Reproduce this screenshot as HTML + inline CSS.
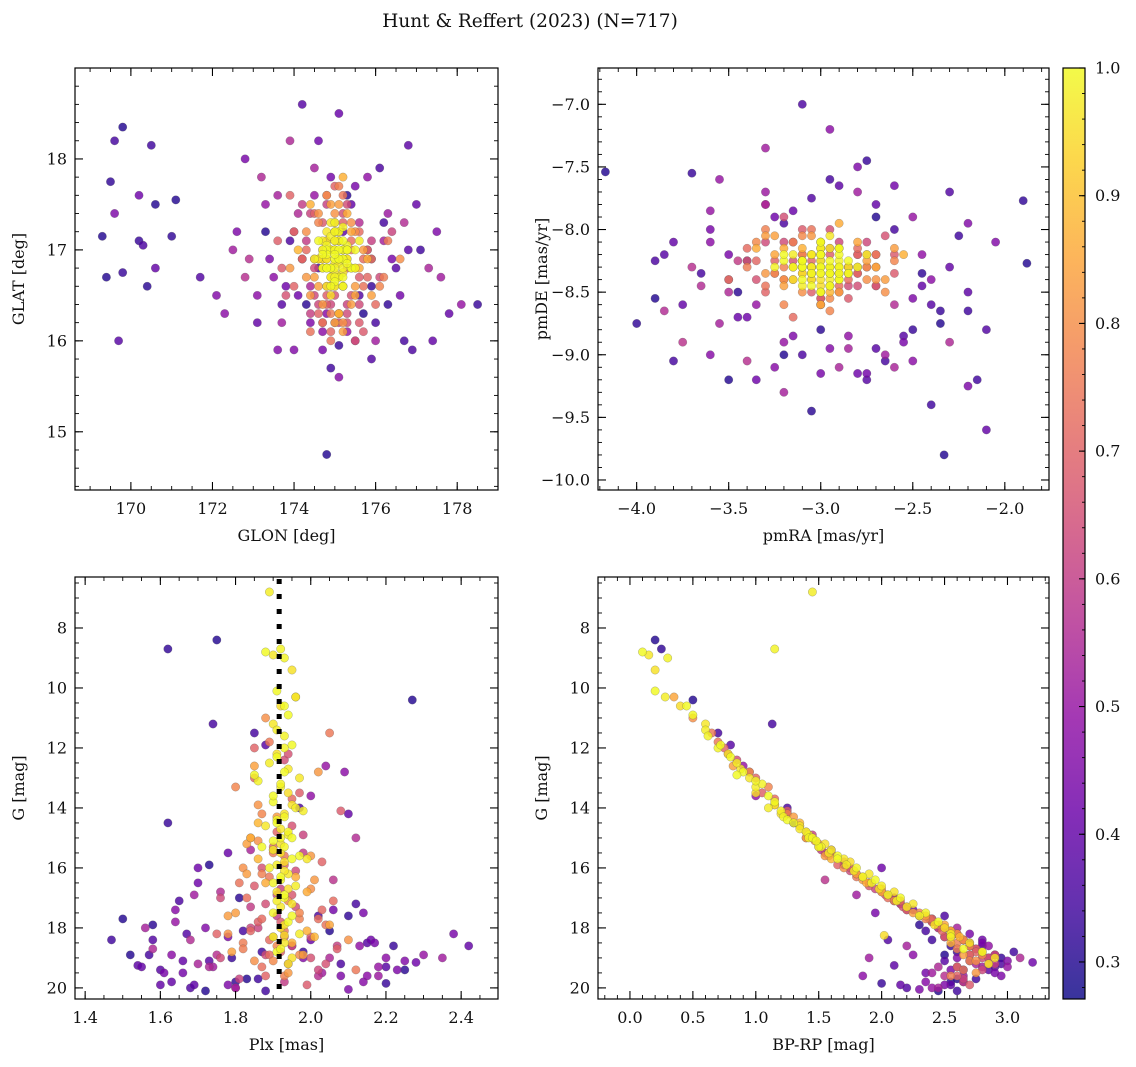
<!DOCTYPE html>
<html><head><meta charset="utf-8">
<style>
html,body{margin:0;padding:0;background:#fff;}
svg{display:block;font-family:"DejaVu Serif","Liberation Serif",serif;}
</style></head>
<body>
<svg id="fig" width="1136" height="1067" viewBox="0 0 1136 1067" xmlns="http://www.w3.org/2000/svg">
<text x="530" y="27" text-anchor="middle" font-size="18.5" fill="#111">Hunt &amp; Reffert (2023) (N=717)</text>
</svg>
<script>
// ---- data (one entry per star) ----
const glon = [169.3,169.5,169.6,169.8,169.7,169.8,169.4,170.2,170.3,170.4,170.5,170.6,170.6,171.0,171.1,171.7,169.6,170.2,
172.3,172.5,172.8,173.1,173.3,173.6,173.9,174.1,174.2,174.5,174.8,175.1,175.1,175.5,175.8,176.0,176.3,176.6,176.8,176.9,177.3,177.5,177.8,178.1,178.5,172.9,173.5,176.4,177.6,174.0,175.9,172.1,174.6,176.7,173.2,177.0,175.3,174.4,176.2,173.7,175.6,174.9,
175.5,174.3,175.9,174.6,175.2,173.9,176.1,174.8,175.6,174.1,175.3,174.5,176.3,175.0,173.8,175.8,174.4,175.4,174.9,176.0,174.2,175.1,175.7,173.7,174.7,176.4,175.2,174.0,175.5,174.6,176.2,174.9,173.6,175.9,174.3,175.3,176.6,174.8,175.1,173.9,175.6,174.4,175.0,176.1,174.2,175.7,174.7,175.4,174.0,175.2,
175.0,174.8,175.2,174.9,175.3,175.1,174.7,175.4,174.9,175.0,175.2,174.6,175.1,174.8,175.3,175.0,174.9,175.5,174.7,175.1,175.2,174.8,175.0,175.4,174.9,175.1,174.6,175.3,175.0,174.8,175.2,174.9,175.1,175.5,174.7,175.0,175.3,174.8,175.1,174.9,175.2,175.0,174.5,175.6,174.8,175.2,174.9,175.1,175.0,174.7,
174.6,175.4,174.9,175.7,174.3,175.1,174.8,175.5,174.5,175.2,174.7,175.6,174.4,175.0,175.8,174.6,175.3,174.9,175.5,174.2,175.1,174.8,175.4,174.5,175.7,175.0,174.7,175.3,174.4,175.9,174.9,175.2,174.6,175.6,174.8,175.0,175.4,174.3,175.1,174.7,175.5,174.9,175.3,174.5,175.8,175.0,174.6,175.2,174.8,175.4,174.4,175.1,174.9,175.6,174.7,175.3,175.0,174.5,175.2,174.8,
175.0,174.9,175.1,175.2,174.8,175.0,175.3,174.7,175.1,174.9,175.0,175.2,174.8,175.1,174.9,175.0,175.3,174.8,175.2,175.0,174.9,175.1,174.7,175.0,175.2,174.9,175.1,175.0,174.8,175.2,
173.8,176.2,174.5,175.7,173.4,176.5,174.1,175.9,174.7,175.4,173.9,176.0,174.3,175.5,172.8,177.1,174.8,175.2,173.6,176.3,174.0,175.8,174.6,175.0,173.3,176.7,174.9,175.6,174.2,175.1,172.6,177.4,174.4,176.1,173.1,175.3,174.7,176.8,173.7,175.9];
const glat = [17.15,17.75,18.2,18.35,16.0,16.75,16.7,17.6,17.05,16.6,18.15,17.5,16.8,17.15,17.55,16.7,17.4,17.1,
16.3,17.0,18.0,16.2,17.5,15.9,18.2,16.5,18.6,17.9,14.75,15.6,18.5,16.0,17.8,16.2,17.4,16.5,18.15,15.9,16.8,17.2,16.3,16.4,16.4,16.9,16.7,16.9,16.7,17.2,15.8,16.5,18.2,16.0,17.8,17.5,16.1,16.2,17.1,16.4,17.3,15.7,
16.5,17.2,16.9,16.3,17.4,16.8,16.6,17.6,16.2,17.0,16.4,16.7,17.1,17.7,16.5,16.9,16.1,17.3,16.6,16.4,17.5,16.3,17.0,16.8,16.2,17.2,17.8,16.6,16.0,17.4,16.7,16.4,17.1,16.5,17.0,16.2,16.9,17.5,16.3,17.6,16.8,16.5,17.3,16.7,16.9,16.1,17.0,16.4,17.2,16.6,
16.9,17.1,16.8,16.7,17.0,17.2,16.9,16.8,17.3,16.6,17.1,16.9,16.7,17.0,16.9,17.2,16.5,17.0,16.8,17.1,16.9,16.6,17.3,16.8,17.0,16.7,17.1,16.9,16.8,17.2,16.6,17.0,16.9,16.8,17.1,16.7,17.0,16.9,17.2,16.8,16.7,17.0,16.9,17.1,16.8,16.6,17.0,16.9,17.1,16.8,
17.3,16.5,17.5,16.9,17.1,16.3,16.6,17.2,16.8,17.6,16.4,16.7,17.4,16.2,17.0,16.9,17.5,16.1,16.6,16.9,17.7,16.4,17.2,16.5,16.6,17.4,16.2,16.8,17.5,17.1,16.3,17.3,16.6,16.4,17.6,16.5,17.1,16.7,16.2,17.3,16.8,16.0,17.4,16.9,16.7,17.2,16.4,16.1,16.5,17.0,16.3,17.5,16.6,17.2,16.9,16.3,16.6,17.4,16.2,17.1,
17.0,16.8,17.1,16.9,16.95,16.75,17.05,17.0,16.85,17.15,16.65,17.25,16.9,17.0,16.8,17.2,16.85,17.05,16.75,16.95,16.7,17.1,16.95,16.85,17.0,16.6,16.9,17.1,16.8,17.0,
16.6,17.3,17.6,16.3,16.9,16.8,17.4,16.6,16.1,17.5,17.1,16.0,16.4,17.7,16.7,17.0,16.3,17.2,17.6,16.4,15.9,17.0,16.8,16.2,17.2,17.3,17.8,16.5,16.9,15.95,17.2,16.0,16.6,17.9,16.5,17.6,15.9,17.0,16.2,16.9];
const pmra = [-4.17,-4.0,-3.8,-3.9,-3.85,-3.7,-3.5,-3.35,-3.1,-3.05,-2.4,-2.33,-2.1,-1.9,-1.88,-2.1,-2.2,-2.75,-2.95,-3.3,-3.6,-3.75,-2.5,-2.2,-2.3,-2.8,-2.75,-2.85,-3.2,-3.6,-3.45,-2.6,-2.45,-3.65,-3.3,-2.6,-2.2,-3.9,-2.9,-3.15,-2.7,-3.55,-2.35,-3.4,-2.5,-3.0,-2.65,-3.75,-2.3,-2.05,-3.25,-2.95,-3.5,-2.45,-3.6,-2.8,-3.2,-2.55,-3.85,-2.15,
-2.8,-3.2,-2.7,-3.3,-2.95,-3.1,-2.6,-3.4,-2.85,-3.15,-2.7,-3.25,-3.0,-2.75,-3.35,-2.9,-3.05,-2.65,-3.2,-2.8,-3.45,-2.95,-2.6,-3.1,-3.3,-2.85,-2.55,-3.0,-3.2,-2.7,-3.4,-2.9,-3.05,-2.75,-3.15,-2.65,-3.25,-2.95,-3.5,-2.8,-3.0,-2.7,-3.3,-2.85,-3.1,-2.6,-3.35,-2.9,-3.05,-2.75,
-3.0,-3.05,-2.95,-3.1,-2.9,-3.0,-3.15,-2.85,-3.05,-2.95,-3.1,-3.0,-2.9,-3.2,-3.05,-2.95,-3.0,-2.8,-3.1,-3.0,-2.95,-3.05,-3.15,-2.9,-3.0,-3.1,-2.85,-3.0,-3.05,-2.95,-3.2,-2.9,-3.0,-3.1,-2.95,-3.05,-2.9,-3.0,-3.15,-2.85,-3.0,-3.1,-3.25,-2.75,-3.0,-2.95,-3.05,-3.1,-2.9,-3.0,
-3.1,-2.9,-3.2,-2.8,-3.05,-2.95,-3.25,-2.75,-3.15,-2.85,-3.3,-2.7,-3.0,-3.2,-2.9,-3.1,-2.8,-3.35,-2.65,-3.0,-3.15,-2.85,-3.25,-2.95,-3.05,-2.75,-3.4,-2.9,-3.1,-2.8,-3.2,-3.0,-2.7,-3.3,-2.95,-3.15,-2.85,-3.05,-3.25,-2.6,-3.1,-2.9,-3.35,-2.8,-3.0,-3.2,-2.75,-3.05,-2.95,-3.15,-2.85,-3.3,-2.7,-3.1,-2.9,-3.0,-3.2,-2.8,-3.05,-2.95,
-3.0,-2.95,-3.05,-3.1,-2.9,-3.0,-2.95,-3.05,-3.1,-2.85,-3.0,-2.9,-3.15,-3.0,-2.95,-3.05,-3.0,-2.9,-3.1,-3.0,-2.95,-3.05,-2.9,-3.0,-3.1,-2.95,-3.05,-3.0,-2.9,-3.1,
-3.4,-2.6,-3.2,-2.7,-3.5,-2.4,-3.3,-2.5,-3.6,-2.3,-3.1,-2.8,-3.45,-2.55,-3.7,-2.25,-3.25,-2.9,-3.55,-2.45,-2.95,-3.15,-2.65,-3.35,-2.35,-3.65,-2.75,-3.05,-2.85,-3.4,-2.5,-3.8,-2.6,-3.2,-2.4,-3.0,-3.5,-2.7,-3.3,-2.2];
const pmde = [-7.54,-8.75,-9.05,-8.55,-8.2,-7.55,-9.2,-9.2,-7.0,-9.45,-9.4,-9.8,-9.6,-7.77,-8.27,-8.8,-9.25,-7.45,-7.2,-7.35,-8.0,-8.6,-7.9,-7.95,-8.9,-9.15,-9.2,-8.95,-9.0,-9.0,-8.7,-8.6,-8.2,-8.35,-7.7,-7.65,-8.5,-8.25,-9.1,-8.85,-7.8,-7.6,-8.65,-9.05,-9.05,-9.15,-9.0,-8.9,-7.7,-8.1,-7.9,-7.6,-8.5,-8.45,-7.85,-7.5,-9.3,-8.85,-8.65,-9.2,
-8.1,-8.4,-8.2,-8.5,-8.0,-8.35,-8.25,-8.15,-8.55,-8.3,-8.45,-8.05,-8.6,-8.2,-8.4,-7.95,-8.3,-8.5,-8.1,-8.35,-8.25,-8.65,-8.15,-8.0,-8.45,-8.3,-8.2,-8.55,-7.9,-8.4,-8.3,-8.1,-8.5,-8.25,-8.7,-8.05,-8.35,-8.15,-8.4,-8.2,-8.6,-8.3,-8.0,-8.45,-8.2,-8.35,-8.1,-8.5,-8.25,-8.3,
-8.3,-8.2,-8.35,-8.25,-8.4,-8.15,-8.3,-8.35,-8.2,-8.45,-8.3,-8.1,-8.35,-8.25,-8.4,-8.3,-8.2,-8.3,-8.45,-8.15,-8.25,-8.35,-8.3,-8.2,-8.4,-8.3,-8.25,-8.1,-8.35,-8.3,-8.2,-8.4,-8.3,-8.25,-8.15,-8.35,-8.3,-8.45,-8.2,-8.3,-8.35,-8.25,-8.3,-8.2,-8.5,-8.05,-8.3,-8.4,-8.15,-8.3,
-8.2,-8.35,-8.45,-8.15,-8.3,-8.5,-8.25,-8.4,-8.1,-8.3,-8.35,-8.2,-8.55,-8.15,-8.45,-8.05,-8.3,-8.25,-8.4,-8.6,-8.1,-8.35,-8.2,-8.45,-8.0,-8.3,-8.25,-8.5,-8.15,-8.35,-8.4,-8.2,-8.3,-8.1,-8.55,-8.25,-8.4,-8.05,-8.35,-8.2,-8.5,-8.3,-8.15,-8.45,-8.25,-8.6,-8.1,-8.35,-8.2,-8.4,-8.3,-8.05,-8.45,-8.25,-8.15,-8.5,-8.3,-8.2,-8.4,-8.35,
-8.25,-8.35,-8.2,-8.3,-8.4,-8.15,-8.3,-8.45,-8.25,-8.35,-8.1,-8.3,-8.4,-8.2,-8.35,-8.3,-8.5,-8.25,-8.35,-8.2,-8.4,-8.3,-8.15,-8.35,-8.25,-8.45,-8.3,-8.2,-8.35,-8.3,
-8.7,-8.0,-8.9,-7.9,-8.4,-8.6,-7.8,-8.8,-8.1,-8.3,-9.0,-7.7,-8.5,-8.9,-8.3,-8.05,-9.1,-7.65,-8.75,-8.35,-8.95,-7.85,-9.05,-8.6,-8.75,-8.45,-9.15,-7.75,-8.85,-8.25,-8.55,-8.1,-9.1,-7.95,-8.4,-8.8,-8.2,-8.95,-7.8,-8.65];
const plx = [1.75,1.62,1.74,2.27,1.88,1.62,1.73,1.7,1.65,1.58,1.47,1.52,1.55,1.8,1.72,1.68,2.1,2.2,2.15,2.35,2.38,2.42,2.3,2.25,2.05,2.28,1.6,1.56,1.5,1.64,1.78,2.12,2.0,1.85,2.18,1.66,1.54,2.02,1.7,2.08,1.6,1.8,2.22,1.75,1.63,2.14,1.69,2.06,1.58,1.98,2.16,1.82,1.73,2.1,2.04,1.78,1.95,2.2,1.68,1.87,
1.96,1.88,2.05,1.85,1.93,2.02,1.8,1.95,2.08,1.86,1.98,1.83,1.90,2.03,1.87,1.96,1.81,2.0,1.91,2.06,1.84,1.97,1.78,1.92,2.04,1.86,1.99,1.75,1.93,2.1,1.82,1.95,2.07,1.79,1.89,2.0,1.85,1.94,2.12,1.88,1.84,2.0,1.87,1.76,2.02,1.9,1.97,1.91,1.85,1.93,
1.88,1.90,1.93,1.95,1.91,1.96,1.92,1.94,1.90,1.93,1.95,1.91,1.89,1.93,1.97,1.92,1.94,1.90,1.96,1.93,1.91,1.88,1.94,1.95,1.92,1.90,1.97,1.93,1.89,1.94,1.92,1.96,1.91,1.93,1.95,1.90,1.94,1.92,1.97,1.93,1.91,1.95,1.86,1.98,1.87,1.99,1.93,1.85,1.89,1.92,
1.87,1.95,1.84,1.90,1.98,1.86,1.93,1.82,1.96,1.89,2.01,1.85,1.92,1.99,1.83,1.94,1.88,2.03,1.80,1.91,1.97,1.86,2.05,1.84,1.93,1.78,2.00,1.89,1.95,2.07,1.82,1.92,1.98,1.76,1.90,2.04,1.87,1.94,1.81,1.99,1.86,1.93,1.88,1.96,1.84,1.91,2.02,1.85,1.97,1.89,1.90,1.83,1.95,1.87,2.01,1.88,1.93,1.91,1.86,1.94,
1.93,1.91,1.94,1.92,1.90,1.95,1.93,1.91,1.92,1.94,1.90,1.93,1.92,1.95,1.91,1.93,1.92,1.90,1.94,1.93,1.91,1.92,1.95,1.93,1.90,1.92,1.94,1.91,1.93,1.92,
1.70,2.12,1.64,2.05,1.78,2.15,1.58,1.98,2.20,1.66,2.08,1.74,2.25,1.61,2.02,1.86,2.14,1.69,1.80,2.10,1.72,2.00,1.57,2.18,1.83,1.76,2.06,1.67,2.13,1.79,2.23,1.63,1.84,1.97,2.09,1.81,2.17,1.73,2.03,1.88];
const gmag = [8.4,8.7,11.2,10.4,11.9,14.5,15.9,16.0,17.1,17.9,18.4,18.9,19.3,19.8,20.1,20.0,20.05,19.85,19.6,19.0,18.2,18.6,18.9,19.1,19.0,19.15,19.4,18.0,17.7,17.4,15.5,15.0,13.6,11.5,19.6,19.5,19.25,17.6,19.2,19.6,19.9,20.0,18.6,18.9,18.9,17.5,16.9,16.4,18.4,19.0,18.4,18.1,19.3,14.2,12.6,19.9,18.6,19.3,18.4,18.8,
10.3,11.0,11.5,12.0,12.4,12.8,13.3,13.7,14.1,14.5,14.9,15.2,15.5,15.8,16.0,16.3,16.5,16.7,16.9,17.1,17.3,17.5,17.6,17.8,17.9,18.0,18.1,18.2,18.3,18.4,18.5,18.6,18.7,18.8,18.9,19.0,19.1,19.2,19.4,19.6,15.0,15.6,16.2,17.0,17.7,18.3,18.9,14.3,13.0,19.8,
8.8,8.9,9.0,9.4,10.1,10.3,10.6,10.9,11.2,11.6,11.9,12.2,12.5,12.8,13.0,13.2,13.5,13.8,14.0,14.2,14.4,14.6,14.8,15.0,15.2,15.4,15.6,15.8,16.0,16.2,16.4,16.6,16.8,17.0,17.2,17.5,17.8,18.0,18.2,18.5,18.8,19.0,13.1,14.1,15.3,15.7,18.25,12.9,6.8,8.7,
14.2,14.6,15.0,15.3,15.5,15.7,15.9,16.0,16.1,16.3,16.4,16.6,16.7,16.8,17.0,17.1,17.2,17.4,17.5,17.6,17.7,17.8,17.9,18.0,18.1,18.2,18.3,18.4,18.5,18.6,18.7,18.8,18.9,19.0,19.1,19.2,19.3,19.5,19.7,19.9,15.1,15.6,16.5,17.3,18.1,18.6,19.4,12.6,13.5,11.8,15.4,16.2,16.9,17.7,18.3,18.9,19.6,14.8,13.9,12.2,
12.0,12.3,12.7,13.3,13.6,13.9,14.3,14.5,14.7,14.9,15.1,15.3,15.5,15.7,15.9,16.1,16.3,16.5,16.7,16.9,17.1,17.3,17.6,17.9,18.3,18.7,19.2,11.4,10.6,15.0,
16.5,17.2,17.8,18.1,18.3,18.5,18.7,18.8,19.0,19.1,19.2,19.3,19.4,19.5,19.6,19.7,19.8,19.9,20.0,17.6,18.0,18.4,18.9,19.3,19.7,16.8,17.4,18.2,18.6,19.0,19.4,19.8,15.4,14.0,12.8,17.0,18.5,19.1,19.5,20.1];
const bprp = [0.2,0.25,1.13,0.5,0.8,1.3,1.7,2.0,2.1,2.3,2.4,2.5,2.6,2.55,2.45,2.2,2.3,2.0,1.85,1.9,2.7,2.8,2.9,3.0,3.1,3.2,2.85,2.6,2.4,2.2,1.6,1.4,1.0,0.7,2.65,2.35,2.1,2.5,2.75,2.95,2.15,2.4,2.55,2.7,2.25,1.95,1.8,1.55,2.05,2.6,2.8,2.35,2.45,1.25,0.9,2.5,2.2,2.9,2.65,3.05,
0.35,0.5,0.65,0.75,0.85,0.95,1.1,1.15,1.25,1.35,1.45,1.5,1.6,1.7,1.75,1.85,1.9,2.0,2.05,2.15,2.2,2.3,2.35,2.4,2.45,2.5,2.55,2.6,2.5,2.65,2.6,2.7,2.75,2.8,2.7,2.85,2.75,2.9,2.65,2.6,1.4,1.55,1.8,2.1,2.4,2.55,2.8,1.3,1.0,2.65,
0.1,0.15,0.3,0.2,0.2,0.28,0.4,0.5,0.6,0.62,0.72,0.78,0.85,0.9,0.95,1.05,1.0,1.15,1.1,1.2,1.25,1.35,1.4,1.45,1.55,1.6,1.65,1.75,1.8,1.9,1.95,2.0,2.1,2.15,2.25,2.35,2.45,2.5,2.55,2.7,2.8,2.9,1.0,1.2,1.5,1.7,2.02,0.85,1.45,1.15,
1.25,1.35,1.45,1.5,1.55,1.6,1.65,1.7,1.75,1.8,1.85,1.9,1.95,2.0,2.05,2.1,2.15,2.2,2.25,2.3,2.35,2.4,2.5,2.45,2.55,2.6,2.5,2.65,2.55,2.7,2.6,2.75,2.65,2.8,2.7,2.85,2.6,2.75,2.65,2.7,1.47,1.58,1.88,2.17,2.48,2.7,2.8,0.82,1.05,0.7,1.52,1.8,2.03,2.38,2.62,2.9,2.55,1.4,1.15,0.78,
0.7,0.8,0.88,1.0,1.1,1.15,1.22,1.3,1.35,1.42,1.48,1.52,1.58,1.65,1.72,1.78,1.85,1.92,1.98,2.05,2.12,2.2,2.3,2.42,2.55,2.65,2.85,0.6,0.45,1.42,
1.9,2.15,2.4,2.55,2.5,2.7,2.75,2.6,2.85,2.7,2.95,2.8,2.65,2.9,2.5,2.75,2.35,2.55,2.45,2.3,2.45,2.65,2.9,3.0,2.6,2.0,2.25,2.6,2.85,2.95,2.55,2.65,1.6,1.25,0.95,2.1,2.8,2.5,2.4,2.6];
const prob = [0.3,0.32,0.35,0.3,0.38,0.33,0.3,0.42,0.36,0.31,0.34,0.3,0.4,0.32,0.3,0.37,0.45,0.33,
0.48,0.52,0.44,0.4,0.5,0.46,0.55,0.42,0.38,0.53,0.3,0.47,0.41,0.56,0.49,0.35,0.51,0.43,0.39,0.36,0.54,0.45,0.4,0.5,0.33,0.57,0.48,0.44,0.52,0.58,0.37,0.46,0.42,0.35,0.55,0.4,0.5,0.45,0.53,0.38,0.56,0.34,
0.85,0.8,0.75,0.7,0.65,0.82,0.78,0.72,0.68,0.88,0.62,0.84,0.76,0.7,0.66,0.86,0.74,0.8,0.64,0.72,0.6,0.78,0.83,0.68,0.74,0.62,0.87,0.7,0.65,0.81,0.76,0.63,0.69,0.84,0.72,0.66,0.8,0.61,0.75,0.7,0.86,0.82,0.77,0.64,0.73,0.68,0.79,0.83,0.71,0.6,
1.0,0.97,0.99,0.96,1.0,0.98,0.95,1.0,0.97,0.99,1.0,0.96,0.98,1.0,0.97,0.99,0.95,1.0,0.98,0.96,1.0,0.97,0.99,1.0,0.96,0.98,1.0,0.95,0.99,0.97,1.0,0.98,0.96,1.0,0.97,0.99,1.0,0.95,0.98,0.97,1.0,0.96,0.99,0.98,1.0,0.97,0.95,1.0,0.98,0.99,
0.78,0.66,0.84,0.72,0.6,0.88,0.7,0.8,0.64,0.75,0.82,0.68,0.62,0.86,0.73,0.79,0.65,0.71,0.83,0.6,0.77,0.69,0.85,0.63,0.74,0.81,0.67,0.72,0.87,0.61,0.76,0.7,0.84,0.64,0.79,0.66,0.73,0.82,0.62,0.68,0.8,0.74,0.86,0.65,0.71,0.78,0.63,0.84,0.69,0.75,0.61,0.83,0.67,0.72,0.88,0.64,0.77,0.7,0.81,0.66,
0.99,1.0,0.97,0.98,1.0,0.96,0.99,1.0,0.97,0.98,1.0,0.99,0.96,1.0,0.98,0.97,1.0,0.99,0.95,1.0,0.98,0.97,1.0,0.96,0.99,1.0,0.97,0.98,1.0,0.99,
0.42,0.35,0.5,0.3,0.45,0.38,0.55,0.33,0.48,0.4,0.36,0.52,0.31,0.44,0.57,0.34,0.47,0.39,0.53,0.32,0.46,0.41,0.35,0.5,0.3,0.56,0.43,0.37,0.49,0.33,0.45,0.4,0.54,0.36,0.48,0.31,0.44,0.38,0.52,0.34];
const plxRef = 1.916;
const cbTicks = [0.3,0.4,0.5,0.6,0.7,0.8,0.9,1.0];

// ---- plasma colormap ----
const plasmaStops = ["#0d0887","#41049d","#6a00a8","#8f0da4","#b12a90","#cc4778","#e16462","#f2844b","#fca636","#fcce25","#f0f921"];
const vmin = 0.271, vmax = 1.0;
function hex(h){return [parseInt(h.slice(1,3),16),parseInt(h.slice(3,5),16),parseInt(h.slice(5,7),16)];}
function plasma(t){
  t=Math.max(0,Math.min(1,t)); const f=t*10, i=Math.min(9,Math.floor(f)), r=f-i;
  const a=hex(plasmaStops[i]), b=hex(plasmaStops[i+1]);
  return "rgb("+a.map((v,k)=>Math.round(v+(b[k]-v)*r)).join(",")+")";
}
function colorOf(p){return plasma((p-vmin)/(vmax-vmin));}

const NS="http://www.w3.org/2000/svg";
const svg=document.getElementById("fig");
function mk(tag,attrs,parent){const e=document.createElementNS(NS,tag);for(const k in attrs)e.setAttribute(k,attrs[k]);(parent||svg).appendChild(e);return e;}
function fmt(v,d){const s=Math.abs(v).toFixed(d);return (v<-1e-9?"\u2212":"")+s;}

const order=prob.map((p,i)=>i).sort((a,b)=>prob[a]-prob[b]);

const panels=[
 {name:"galactic-position",box:[75,68,498,490],xr:[168.63,179.0],yr:[19.0,14.36],xs:glon,ys:glat,
  xmaj:[170,172,174,176,178],xmin:0.5,xd:0,ymaj:[15,16,17,18],ymin:0.2,yd:0,xl:"GLON [deg]",yl:"GLAT [deg]"},
 {name:"proper-motion",box:[598,68,1049,490],xr:[-4.21,-1.76],yr:[-6.71,-10.08],xs:pmra,ys:pmde,
  xmaj:[-4.0,-3.5,-3.0,-2.5,-2.0],xmin:0.1,xd:1,ymaj:[-7.0,-7.5,-8.0,-8.5,-9.0,-9.5,-10.0],ymin:0.1,yd:1,xl:"pmRA [mas/yr]",yl:"pmDE [mas/yr]"},
 {name:"parallax-magnitude",box:[75,577,498,999],xr:[1.373,2.498],yr:[6.3,20.37],xs:plx,ys:gmag,
  xmaj:[1.4,1.6,1.8,2.0,2.2,2.4],xmin:0.05,xd:1,ymaj:[8,10,12,14,16,18,20],ymin:0.5,yd:0,xl:"Plx [mas]",yl:"G [mag]",ref:true},
 {name:"color-magnitude",box:[598,577,1049,999],xr:[-0.254,3.33],yr:[6.3,20.37],xs:bprp,ys:gmag,
  xmaj:[0.0,0.5,1.0,1.5,2.0,2.5,3.0],xmin:0.1,xd:1,ymaj:[8,10,12,14,16,18,20],ymin:0.5,yd:0,xl:"BP-RP [mag]",yl:"G [mag]"}
];

panels.forEach((P,pi)=>{
  const [L,T,R,B]=P.box;
  const sx=v=>L+(v-P.xr[0])/(P.xr[1]-P.xr[0])*(R-L);
  const sy=v=>T+(v-P.yr[0])/(P.yr[1]-P.yr[0])*(B-T);
  const g=mk("g",{});
  
  
  const cid="clip"+pi;
  const cp=mk("clipPath",{id:cid},g); mk("rect",{x:L,y:T,width:R-L,height:B-T},cp);
  const pts=mk("g",{"clip-path":"url(#"+cid+")"},g);
  
  
  order.forEach(i=>{
    const xv=P.xs[i], yv=P.ys[i];
    if(xv===undefined||yv===undefined)return;
    const c=mk("circle",{cx:sx(xv).toFixed(1),cy:sy(yv).toFixed(1),r:4.2,fill:colorOf(prob[i]),"fill-opacity":0.82,stroke:"#555","stroke-opacity":0.45,"stroke-width":0.5},pts);
    
    
  });
  if(P.ref){
    const ln=mk("line",{x1:sx(plxRef),x2:sx(plxRef),y1:T+2,y2:B,stroke:"#000","stroke-width":5,"stroke-dasharray":"5 10"},pts);
    
    
  }
  const fr=mk("rect",{x:L,y:T,width:R-L,height:B-T,fill:"none",stroke:"#000","stroke-width":1.2},g);
  
  
  const x0=Math.ceil(Math.min(...P.xr)/P.xmin), x1=Math.floor(Math.max(...P.xr)/P.xmin);
  for(let k=x0;k<=x1;k++){const x=sx(k*P.xmin);
    mk("line",{x1:x,x2:x,y1:B,y2:B-4,stroke:"#000","stroke-width":0.9},g);
    mk("line",{x1:x,x2:x,y1:T,y2:T+4,stroke:"#000","stroke-width":0.9},g);}
  const y0=Math.ceil(Math.min(...P.yr)/P.ymin), y1=Math.floor(Math.max(...P.yr)/P.ymin);
  for(let k=y0;k<=y1;k++){const y=sy(k*P.ymin);
    mk("line",{x1:L,x2:L+4,y1:y,y2:y,stroke:"#000","stroke-width":0.9},g);
    mk("line",{x1:R,x2:R-4,y1:y,y2:y,stroke:"#000","stroke-width":0.9},g);}
  P.xmaj.forEach(v=>{const x=sx(v);
    mk("line",{x1:x,x2:x,y1:B,y2:B-8,stroke:"#000","stroke-width":1.1},g);
    mk("line",{x1:x,x2:x,y1:T,y2:T+8,stroke:"#000","stroke-width":1.1},g);
    const t=mk("text",{x:x,y:B+24,"text-anchor":"middle","font-size":16,fill:"#111"},g);t.textContent=fmt(v,P.xd);
    
    });
  P.ymaj.forEach(v=>{const y=sy(v);
    mk("line",{x1:L,x2:L+8,y1:y,y2:y,stroke:"#000","stroke-width":1.1},g);
    mk("line",{x1:R,x2:R-8,y1:y,y2:y,stroke:"#000","stroke-width":1.1},g);
    const t=mk("text",{x:L-8,y:y+5.5,"text-anchor":"end","font-size":16,fill:"#111"},g);t.textContent=fmt(v,P.yd);
    
    });
  const xl=mk("text",{x:(L+R)/2,y:B+51,"text-anchor":"middle","font-size":16,fill:"#111"},g);xl.textContent=P.xl;
  
  
  const yx = pi%2===0 ? 24 : 547;
  const yl=mk("text",{x:yx,y:(T+B)/2,"text-anchor":"middle","font-size":16,fill:"#111",transform:"rotate(-90 "+yx+" "+((T+B)/2)+")"},g);yl.textContent=P.yl;
  
  
});

// ---- colorbar ----
const CB=[1063,68,1085,999];
const defs=mk("defs",{});
const lg=mk("linearGradient",{id:"cbg",x1:0,y1:1,x2:0,y2:0},defs);
for(let i=0;i<=20;i++){mk("stop",{offset:(i/20),"stop-color":plasma(i/20),"stop-opacity":0.82},lg);}
const cbg=mk("g",{});


mk("rect",{x:CB[0],y:CB[1],width:CB[2]-CB[0],height:CB[3]-CB[1],fill:"url(#cbg)",stroke:"#000","stroke-width":1.2},cbg);
const cy=v=>CB[3]-(v-vmin)/(vmax-vmin)*(CB[3]-CB[1]);
for(let k=Math.ceil(vmin/0.02);k<=Math.floor(vmax/0.02+1e-6);k++){const y=cy(k*0.02);
  mk("line",{x1:CB[2],x2:CB[2]-3,y1:y,y2:y,stroke:"#000","stroke-width":0.9},cbg);}
cbTicks.forEach(v=>{const y=cy(v);
  mk("line",{x1:CB[2],x2:CB[2]-6,y1:y,y2:y,stroke:"#000","stroke-width":1.1},cbg);
  const t=mk("text",{x:CB[2]+10,y:y+5.5,"font-size":16,fill:"#111"},cbg);t.textContent=v.toFixed(1);
  
  });
</script>
</body></html>
